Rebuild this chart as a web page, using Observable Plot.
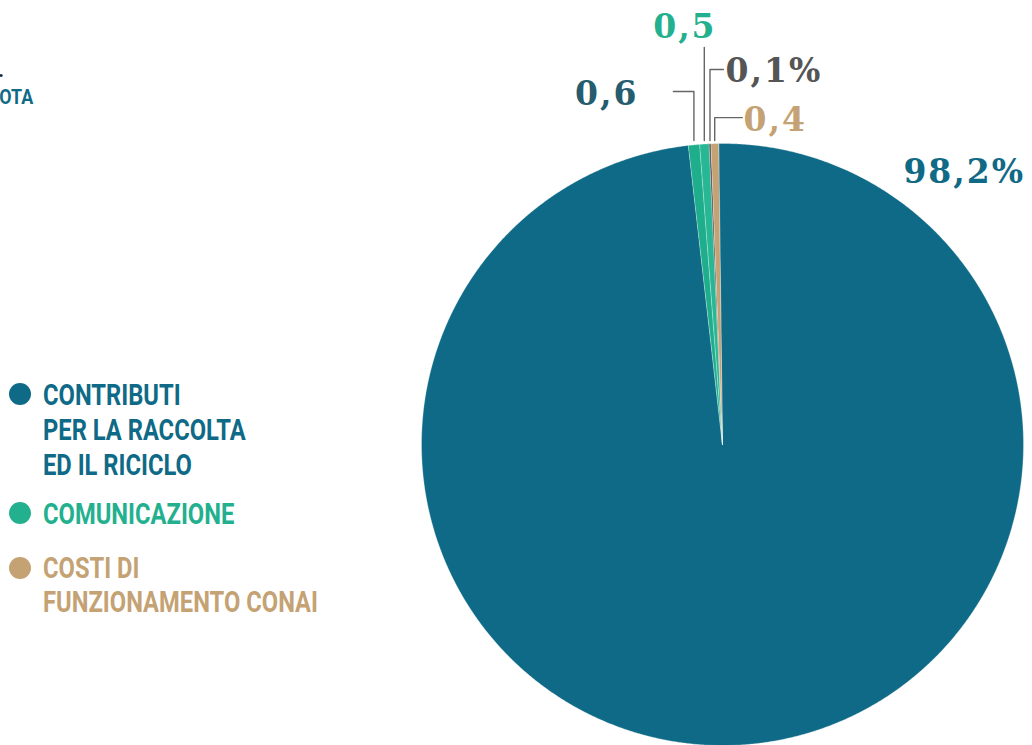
<!DOCTYPE html>
<html>
<head>
<meta charset="utf-8">
<script src="https://cdn.jsdelivr.net/npm/d3@7"></script>
<script src="https://cdn.jsdelivr.net/npm/@observablehq/plot@0.6"></script>
<style>
  html, body { margin: 0; padding: 0; background: #ffffff; }
  #wrap { position: relative; width: 1032px; height: 745px; overflow: hidden; background: #fff; }
  #chart { position: absolute; left: 0; top: 0; }
  #chart svg text { letter-spacing: 2px; }
  .cond { font-family: "Roboto", "DejaVu Sans Condensed", sans-serif; font-weight: 700; position: absolute; white-space: nowrap; }
  .leg-dot { position: absolute; width: 22px; height: 22px; border-radius: 50%; }
  .leg-text { position: absolute; left: 43px; font-size: 30px; transform-origin: left top; }
  .leg-text span { display: inline-block; }
</style>
</head>
<body>
<div id="wrap">
  <div id="chart"></div>
  <div id="legend"></div>
  <div id="title"></div>
</div>
<script>
// ---- data ----
const sliceKeys   = ["contributi", "altro_a", "comunicazione", "altro_b", "costi"];
const sliceValues = [98.2, 0.6, 0.5, 0.1, 0.4];
const sliceLabels = ["98,2%", "0,6", "0,5", "0,1%", "0,4"];
const sliceColors = ["#0e6a86", "#1fae8c", "#27b795", "#555555", "#c4a273"];
const labelColors = ["#106a85", "#255c6e", "#22b08e", "#555555", "#c4a273"];

const legendLabels = [
  ["CONTRIBUTI", "PER LA RACCOLTA", "ED IL RICICLO"],
  ["COMUNICAZIONE"],
  ["COSTI DI", "FUNZIONAMENTO CONAI"]
];
const legendColors = ["#0e6a86", "#22b08e", "#c4a273"];
const titleLines = ["2022.", "QUOTA"];

// ---- layout (pie units: radius = 1) ----
const rotationDeg = -0.76;
const labelLayout = {
  "98,2%": {textX: 0.601, textY: 0.905, anchor: "start"},
  "0,6":   {elbowY: 1.173, endX: -0.163, textX: -0.279, textY: 1.162, anchor: "end"},
  "0,5":   {elbowY: 1.319, endX: null,   textX: -0.125, textY: 1.384, anchor: "middle"},
  "0,1%":  {elbowY: 1.246, endX: 0.003,  textX: 0.010,  textY: 1.238, anchor: "start"},
  "0,4":   {elbowY: 1.086, endX: 0.066,  textX: 0.070,  textY: 1.075, anchor: "start"}
};

// ---- pie geometry from data ----
const rot = rotationDeg * Math.PI / 180;
const arcs = d3.pie().sort(null).value(d => d)
  .startAngle(rot).endAngle(rot + 2 * Math.PI)(sliceValues);

function slicePoints(a) {
  const pts = [{x: 0, y: 0}];
  const step = 0.25 * Math.PI / 180;
  const n = Math.max(2, Math.ceil((a.endAngle - a.startAngle) / step));
  for (let i = 0; i <= n; i++) {
    const t = a.startAngle + (a.endAngle - a.startAngle) * i / n;
    pts.push({x: Math.sin(t), y: Math.cos(t)});
  }
  return pts;
}

const marks = [];
arcs.forEach((a, i) => {
  marks.push(Plot.line(slicePoints(a), {
    x: "x", y: "y", curve: "linear-closed",
    fill: sliceColors[i], stroke: "#ffffff", strokeWidth: 0.5, strokeOpacity: 0.6
  }));
});

// leaders and labels
const labelRows = [];
arcs.forEach((a, i) => {
  const lab = sliceLabels[i];
  const L = labelLayout[lab];
  const mid = (a.startAngle + a.endAngle) / 2;
  if (L.elbowY !== undefined) {
    const lx = Math.sin(mid);
    const pts = [{x: lx, y: 1.01}, {x: lx, y: L.elbowY}];
    if (L.endX !== null) pts.push({x: L.endX, y: L.elbowY});
    marks.push(Plot.line(pts, {x: "x", y: "y", stroke: "#666666", strokeWidth: 1.4}));
  }
  labelRows.push({label: lab, x: L.textX, y: L.textY, anchor: L.anchor, color: labelColors[i]});
});
["start", "middle", "end"].forEach(anc => {
  marks.push(Plot.text(labelRows.filter(d => d.anchor === anc), {
    x: "x", y: "y", text: "label", textAnchor: anc, lineAnchor: "middle",
    fill: d => d.color, fontSize: 33, fontWeight: "bold", fontFamily: "DejaVu Serif"
  }));
});

const chart = Plot.plot({
  width: 1032, height: 745,
  margin: 0,
  x: {type: "linear", domain: [-1, 1], range: [421, 1023], axis: null},
  y: {type: "linear", domain: [-1, 1], range: [745, 143], axis: null},
  color: {type: "identity"},
  style: {background: "transparent", overflow: "visible"},
  marks
});
document.getElementById("chart").appendChild(chart);

// ---- legend (HTML) ----
const legendBlocks = [
  {top: 377, lh: 35, dot: 394},
  {top: 496, lh: 35, dot: 513},
  {top: 551, lh: 33.5, dot: 568}
];
const legend = document.getElementById("legend");
const textDivs = [];
legendLabels.forEach((lines, i) => {
  const b = legendBlocks[i];
  const dot = document.createElement("div");
  dot.className = "leg-dot";
  dot.style.left = "9px";
  dot.style.top = (b.dot - 11) + "px";
  dot.style.background = legendColors[i];
  legend.appendChild(dot);
  const t = document.createElement("div");
  t.className = "cond leg-text";
  t.style.top = b.top + "px";
  t.style.lineHeight = b.lh + "px";
  t.style.color = legendColors[i];
  t.innerHTML = lines.map(s => "<span>" + s + "</span>").join("<br>");
  legend.appendChild(t);
  textDivs.push(t);
});
// condense the legend font so the longest line fits the reference width
const longest = textDivs[2].querySelectorAll("span")[1].getBoundingClientRect().width;
const sx = 275 / longest;
textDivs.forEach(t => { t.style.transform = "scaleX(" + sx + ")"; });

// ---- cropped title fragment ----
const title = document.getElementById("title");
const t1 = document.createElement("div");
t1.className = "cond";
t1.style.cssText = "right:1028px; top:60px; font-size:21px; line-height:21px; color:#1b2b3a;";
t1.textContent = titleLines[0];
title.appendChild(t1);
const t2 = document.createElement("div");
t2.className = "cond";
t2.style.cssText = "right:999px; top:87px; font-size:21px; line-height:21px; color:#0e6a86; transform: scaleX(0.85); transform-origin: right top;";
t2.textContent = titleLines[1];
title.appendChild(t2);
</script>
</body>
</html>
